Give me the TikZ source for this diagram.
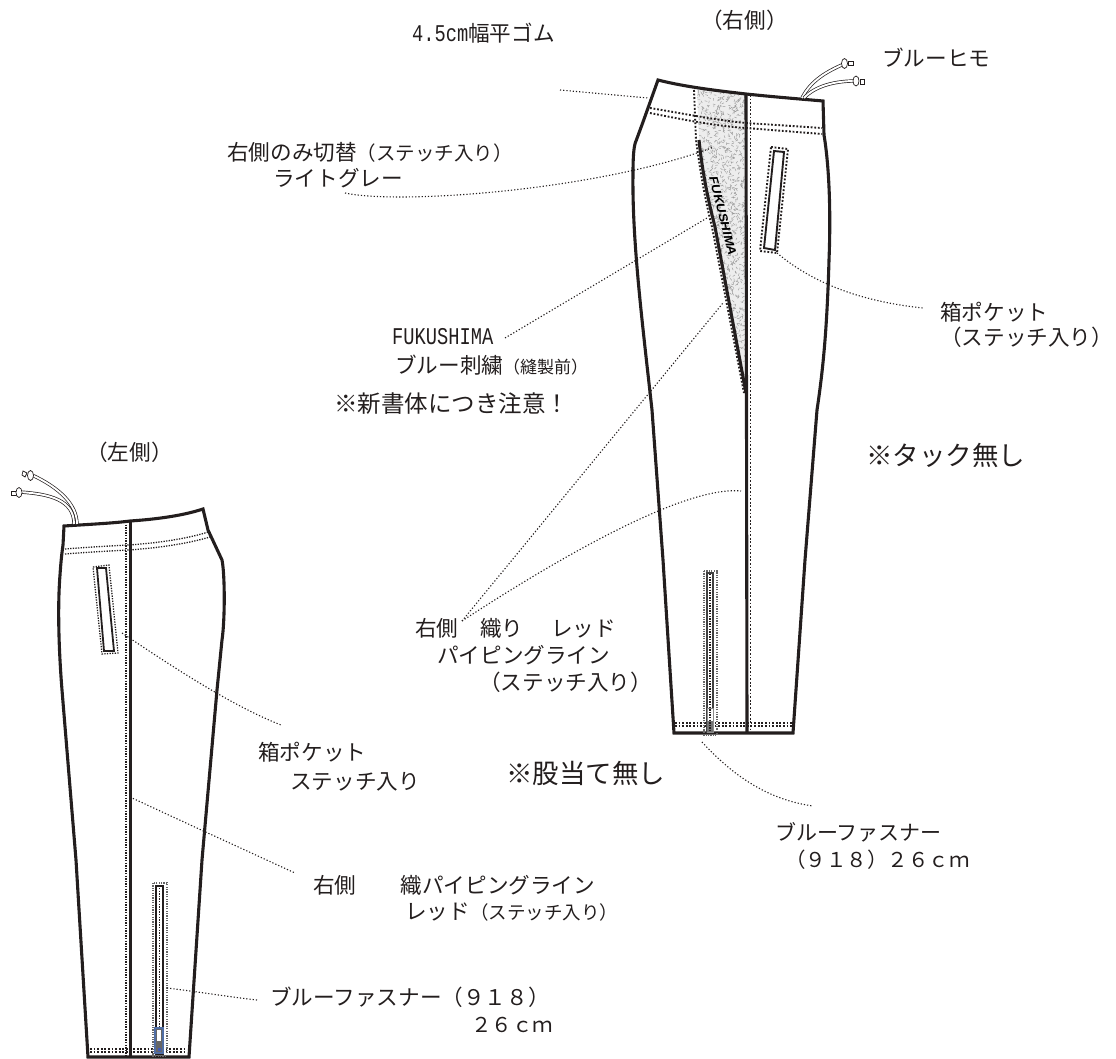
\documentclass[tikz,border=0pt]{standalone}
\usepackage{fontspec}
\setmainfont{Noto Sans CJK JP}
\newfontfamily\monofont[FakeStretch=0.78]{Liberation Mono}
\newfontfamily\logofont[FakeStretch=1.13]{Liberation Sans}
\newcommand{\lblsize}[1]{\fontsize{#1}{#1}\selectfont}
\definecolor{inkdark}{RGB}{35,30,30}
\definecolor{sliderblue}{RGB}{80,110,165}
\tikzset{
    seam/.style={draw=inkdark, line width=3.1pt, line join=miter},
    stitch/.style={draw=inkdark, line width=1.9pt, dash pattern=on 1.8pt off 1.8pt},
    stitchthin/.style={draw=inkdark, line width=1.3pt, dash pattern=on 1.3pt off 1.3pt},
    stitchlight/.style={draw=black!60, line width=1.2pt, dash pattern=on 1.2pt off 1.2pt},
    leader/.style={draw=inkdark, line width=1.1pt, dash pattern=on 1.2pt off 2pt},
    cord/.style={draw=inkdark, double=white, double distance=1.9pt, line width=0.7pt},
    cordcap/.style={draw=inkdark, fill=white, line width=0.7pt},
    lbl/.style={anchor=west, inner sep=0pt, text=inkdark, font=\lblsize{21.6}},
}
\begin{document}
\begin{tikzpicture}[x=1pt,y=-1pt]
    \useasboundingbox (0,0) rectangle (1116,1059);

    % right side: panel
    \fill[black!7] (697,89) .. controls (720,91) and (735,92) .. (746,93) -- (746,393) -- (699,140) -- cycle;
    \begin{scope}
        \clip (697,89) -- (746,93) -- (746,393) -- (715,227) -- (699,140) -- cycle;
        \pgfmathsetseed{7}
        \foreach \i in {1,...,1700} {
            \pgfmathsetmacro{\dotx}{695+rnd*53}
            \pgfmathsetmacro{\doty}{88+rnd*306}
            \pgfmathsetmacro{\dotr}{rnd*180}
            \draw[black!40, line width=0.45pt, rotate around={\dotr:(\dotx,\doty)}] (\dotx-1.3,\doty) -- (\dotx+1.3,\doty);
        }
    \end{scope}

    % right side: outline
    \draw[seam] (658,80) .. controls (685,87) and (720,91) .. (746,94) .. controls (775,97) and (800,99) .. (823,101)
        -- (824,135) .. controls (829,165) and (831,210) .. (829,260) .. controls (827,330) and (823,370) .. (817,410)
        -- (805,560) -- (793,733) -- (674,733) -- (663,560) -- (652,410)
        .. controls (642,320) and (632,240) .. (633,173) .. controls (633,155) and (634,145) .. (636,141)
        -- (643,122) -- cycle;
    \draw[seam] (746,94) -- (747,733);
    \draw[seam] (699,140) .. controls (702,170) and (708,200) .. (715,227) -- (746,393);

    % right side: stitches
    \path[stitch] (650,108) .. controls (680,113) and (715,120) .. (746,123) -- (822,128);
    \path[stitch] (650,113) .. controls (680,119) and (715,126) .. (746,128) -- (822,134);
    \path[stitch] (694,90) -- (696,140) .. controls (700,170) and (705,200) .. (712,227) -- (744,393);
    \path[stitch] (750.5,95) -- (750.5,735);
    \path[stitch] (771,147) -- (788,149) -- (777,253) -- (760,251) -- cycle;
    \path[stitch] (675,723) -- (792,723);
    \path[stitch] (675,726) -- (792,726);

    % right side: pocket and zipper
    \draw[inkdark, line width=1.9pt] (774,151) -- (784,152) -- (775,250) -- (764,248) -- cycle;
    \path[stitchlight] (704,571) rectangle (717,735);
    \draw[black!75, line width=1.3pt] (707,573) rectangle (713,732);
    \draw[black!45, line width=1pt, fill=white] (707,708) rectangle (713,732);
    \fill[black!55] (707,721) rectangle (713,732);
    \path[stitchthin] (710,574) -- (710,732);

    % right side: cord
    \draw[cord] (802,98) .. controls (811,80) and (828,71) .. (844,64);
    \draw[cord] (804,98) .. controls (815,86) and (835,81) .. (855,81);
    \draw[cordcap] (848,61) rectangle (853,65);
    \draw[cordcap] (860,79) rectangle (864,84);
    \draw[cordcap] (844.5,63.5) ellipse (3pt and 5pt);
    \draw[cordcap] (856,81) ellipse (3pt and 5pt);

    \node[inner sep=0pt, rotate=-76, text=black] (logo) at (723,216) {\logofont\bfseries\itshape\lblsize{12}FUKUSHIMA};

    % left side: outline
    \draw[seam] (64,526) .. controls (95,524) and (115,523) .. (130,521) .. controls (160,519) and (185,515) .. (203,509)
        -- (208,530) -- (222,560) .. controls (225,575) and (225,620) .. (222,640) -- (217,690)
        -- (202,860) -- (189,1057) -- (88,1057) -- (76,860) -- (62,690)
        .. controls (58,640) and (58,600) .. (60,575) .. controls (61,560) and (62,552) .. (63,545) -- cycle;
    \draw[seam] (130.5,521) -- (130.5,1057);

    % left side: stitches
    \path[stitchthin] (65,549) .. controls (90,547) and (110,546) .. (128,545) .. controls (160,543) and (190,538) .. (208,532);
    \path[stitchthin] (65,554) .. controls (90,552) and (110,551) .. (128,550) .. controls (160,548) and (190,543) .. (210,537);
    \path[stitchthin] (126,522) -- (126,1057);
    \path[stitchthin] (93,567) -- (109,565) -- (118,653) -- (102,654) -- cycle;
    \path[stitch] (90,1049) -- (187,1049);
    \path[stitch] (90,1052) -- (187,1052);

    % left side: pocket and zipper
    \draw[inkdark, line width=1.8pt] (97,568) -- (106,568) -- (114,651) -- (104,651) -- cycle;
    \path[stitchlight] (153,883) rectangle (167,1056);
    \draw[inkdark, line width=1.3pt] (156,886) rectangle (163,1054);
    \path[stitchthin] (159.5,888) -- (159.5,1028);
    \draw[sliderblue, line width=1.2pt, fill=black!60] (155,1028) rectangle (163,1053);
    \fill[white] (157,1030) rectangle (161,1041);
    \fill[sliderblue!80!blue] (158,1048) rectangle (161,1051);

    % left side: cord
    \draw[cord] (77,524) .. controls (77,505) and (60,488) .. (32,475);
    \draw[cord] (74,524) .. controls (74,500) and (50,494) .. (20,492);
    \draw[cordcap] (23,471) -- (27,473) -- (25,477) -- (22,475) -- cycle;
    \draw[cordcap] (11,491) rectangle (16,495);
    \draw[cordcap] (30.5,475.5) ellipse (3pt and 5pt);
    \draw[cordcap] (19,492.5) ellipse (3pt and 5pt);

    % labels
    \node[lbl] (gom) at (412,33) {{\monofont\lblsize{24}4.5cm}幅平ゴム};
    \node[lbl] (rside) at (701,20) {（右側）};
    \node[lbl] (himo) at (882,58) {ブルーヒモ};
    \node[lbl] (panel1) at (227,152) {右側のみ切替{\lblsize{19.5}（ステッチ入り）}};
    \node[lbl] (panel2) at (273,178) {ライトグレー};
    \node[lbl] (fuku1) at (392,337) {\monofont\lblsize{24}FUKUSHIMA};
    \node[lbl] (fuku2) at (395,365) {ブルー刺繍{\lblsize{17}（縫製前）}};
    \node[lbl, font=\lblsize{23.5}] (note1) at (334,404) {※新書体につき注意！};
    \node[lbl, font=\lblsize{26.5}] (note2) at (866,455) {※タック無し};
    \node[lbl] (rpock1) at (940,312) {箱ポケット};
    \node[lbl] (rpock2) at (940,337) {（ステッチ入り）};
    \node[lbl] (lside) at (86,452) {（左側）};
    \node[lbl] (pipe1) at (415,628) {右側\hspace{1em}織り\hspace{1.3em}レッド};
    \node[lbl] (pipe2) at (437,655) {パイピングライン};
    \node[lbl] (pipe3) at (479,682) {（ステッチ入り）};
    \node[lbl, font=\lblsize{26.5}] (note3) at (506,773) {※股当て無し};
    \node[lbl, font=\lblsize{21}] (rzip1) at (775,832) {ブルーファスナー};
    \node[lbl, font=\lblsize{20.5}] (rzip2) at (785,860) {（９１８）２６ｃｍ};
    \node[lbl] (lpock1) at (258,752) {箱ポケット};
    \node[lbl] (lpock2) at (290,782) {ステッチ入り};
    \node[lbl] (lpipe1) at (313,885) {右側\hspace{2.05em}織パイピングライン};
    \node[lbl] (lpipe2) at (405,912) {レッド{\lblsize{18.5}（ステッチ入り）}};
    \node[lbl] (lzip1) at (270,997) {ブルーファスナー（９１８）};
    \node[lbl, font=\lblsize{20.5}] (lzip2) at (471,1025) {２６ｃｍ};

    % leaders
    \coordinate (gomA) at (560,90);
    \coordinate (gomB) at (648,98);
    \coordinate (panelA) at (345,193);
    \coordinate (panelB) at (714,147);
    \coordinate (fukuA) at (505,338);
    \coordinate (fukuB) at (707,218);
    \coordinate (pipeA) at (462,621);
    \coordinate (pipeB) at (723,303);
    \coordinate (pipeC) at (741,491);
    \coordinate (rpockA) at (777,253);
    \coordinate (rpockB) at (923,308);
    \coordinate (rzipA) at (702,742);
    \coordinate (rzipB) at (813,806);
    \coordinate (lpockA) at (122,633);
    \coordinate (lpockB) at (281,725);
    \coordinate (lpipeA) at (130,797);
    \coordinate (lpipeB) at (295,873);
    \coordinate (lzipA) at (167,988);
    \coordinate (lzipB) at (257,1000);

    \path[leader] (gomA) -- (gomB);
    \path[leader] (panelA) .. controls (400,205) and (600,190) .. (panelB);
    \path[leader] (fukuA) -- (fukuB);
    \path[leader] (pipeA) -- (pipeB);
    \path[leader] (pipeA) .. controls (540,570) and (680,485) .. (pipeC);
    \path[leader] (rpockA) .. controls (815,285) and (865,302) .. (rpockB);
    \path[leader] (rzipA) .. controls (735,778) and (770,800) .. (rzipB);
    \path[leader] (lpockA) .. controls (170,665) and (230,705) .. (lpockB);
    \path[leader] (lpipeA) .. controls (190,825) and (245,850) .. (lpipeB);
    \path[leader] (lzipA) .. controls (200,992) and (230,997) .. (lzipB);
\end{tikzpicture}
\end{document}
